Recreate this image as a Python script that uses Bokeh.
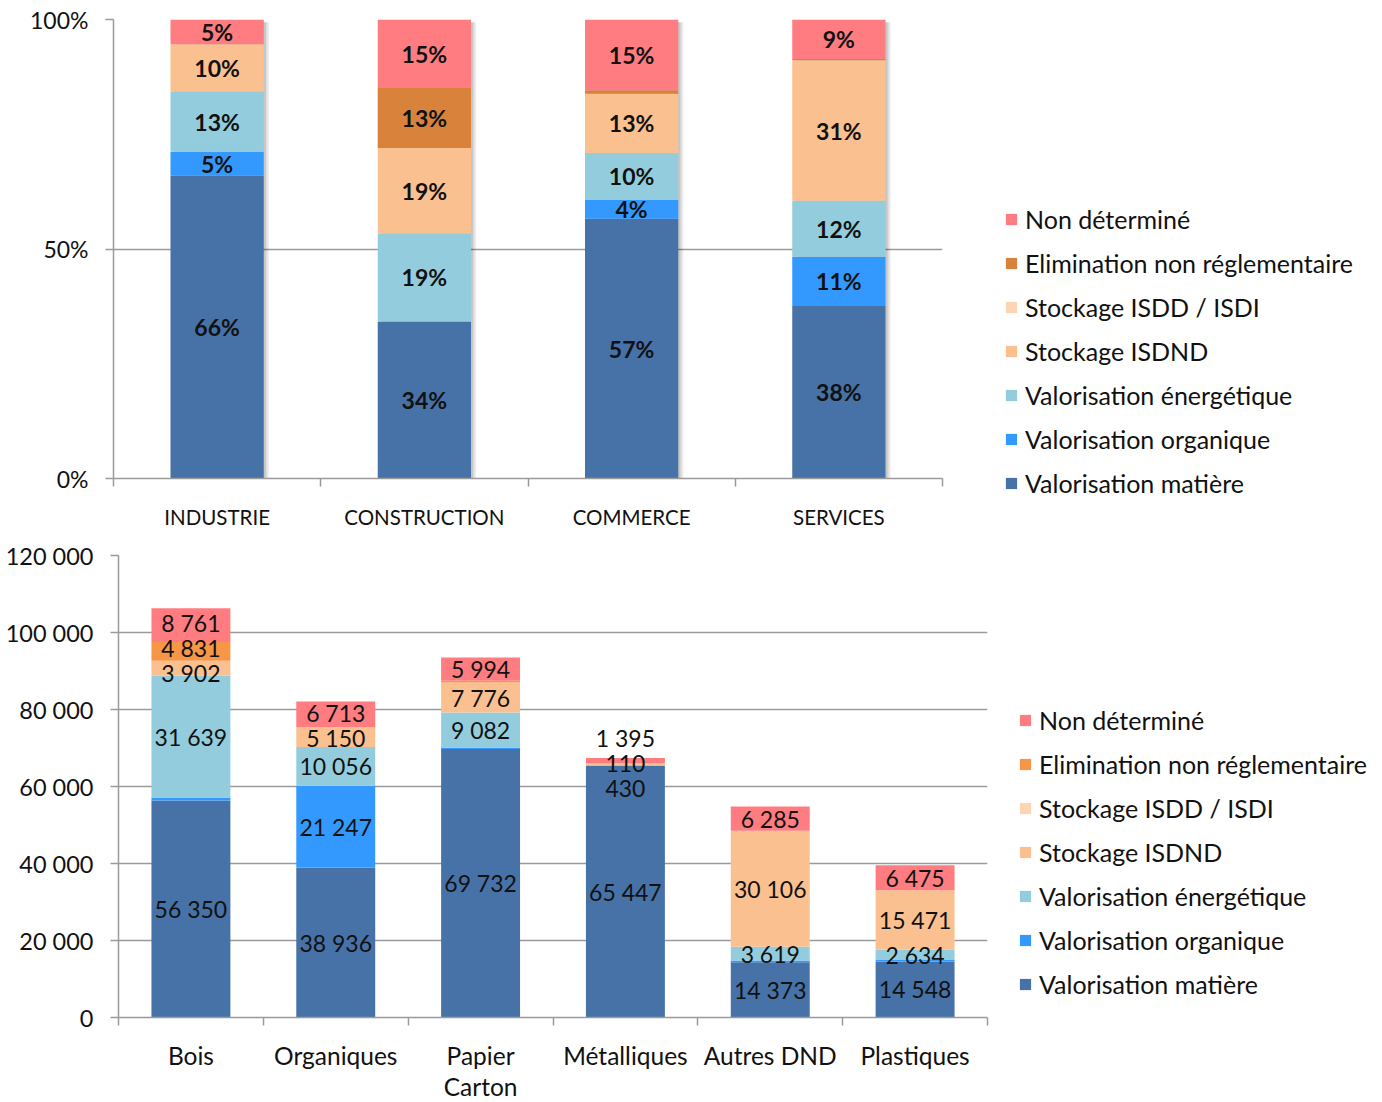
import numpy as np
from bokeh.plotting import figure
from bokeh.models import FixedTicker, Legend, LegendItem, Range1d
from bokeh.embed import file_html
from bokeh.resources import INLINE
from bokeh.core.properties import value

# ---------------- data ----------------
series_names = ["Valorisation matière", "Valorisation organique", "Valorisation énergétique",
                "Stockage ISDND", "Stockage ISDD / ISDI", "Elimination non réglementaire",
                "Non déterminé"]

# top chart: share (%) by sector
sectors = ["INDUSTRIE", "CONSTRUCTION", "COMMERCE", "SERVICES"]
sec_matiere = [66.0, 34.2, 56.6, 37.6]
sec_organique = [5.2, 0.0, 4.1, 10.7]
sec_energetique = [13.1, 19.2, 10.2, 12.2]
sec_isdnd = [10.3, 18.6, 12.9, 30.6]
sec_isdd = [0.0, 0.0, 0.0, 0.0]
sec_elimination = [0.0, 13.1, 0.8, 0.3]
sec_non_determine = [5.4, 14.9, 15.4, 8.6]

# bottom chart: tonnes by waste type
waste_types = ["Bois", "Organiques", "Papier\nCarton", "Métalliques", "Autres DND", "Plastiques"]
t_matiere = [56350, 38936, 69732, 65447, 14373, 14548]
t_organique = [800, 21247, 400, 0, 400, 400]
t_energetique = [31639, 10056, 9082, 0, 3619, 2634]
t_isdnd = [3902, 5150, 7776, 430, 30106, 15471]
t_isdd = [0, 0, 0, 110, 0, 0]
t_elimination = [4831, 0, 500, 0, 0, 0]
t_non_determine = [8761, 6713, 5994, 1395, 6285, 6475]
# segments drawn without a value label in the original
unlabelled = {("Bois", 1), ("Papier\nCarton", 1), ("Papier\nCarton", 5),
              ("Autres DND", 1), ("Plastiques", 1)}

pct_ticks = [0, 50, 100]
t_ticks = [0, 20000, 40000, 60000, 80000, 100000, 120000]

# ---------------- style ----------------
FONT = "Lato"
AX = "#9a9a9a"
colors_top = ["#4672A8", "#3399FF", "#93CDDD", "#FAC090", "#FCD5B5", "#D8823C", "#FF7C80"]
colors_bot = ["#4672A8", "#3399FF", "#93CDDD", "#FAC090", "#FCD5B5", "#F79646", "#FF7C80"]


def fmt(v):
    return f"{int(v):,}".replace(",", " ")


def style_axes(p):
    p.outline_line_color = None
    p.xgrid.visible = False
    p.ygrid.grid_line_color = AX
    p.ygrid.grid_line_width = 1.5
    for ax in (p.xaxis[0], p.yaxis[0]):
        ax.axis_line_color = AX
        ax.axis_line_width = 1.5
        ax.major_tick_line_color = AX
        ax.major_tick_line_width = 1.5
        ax.minor_tick_line_color = AX
        ax.minor_tick_line_width = 1.5
        ax.major_label_text_font = FONT
        ax.major_label_text_color = "#111111"


def make_legend(p, rends, loc):
    items = [LegendItem(label=n, renderers=[r]) for n, r in zip(series_names, rends)][::-1]
    leg = Legend(items=items, location=loc, orientation="vertical",
                 label_text_font=FONT, label_text_font_size="25px", label_text_color="#111111",
                 glyph_width=14, glyph_height=14, label_standoff=7, label_height=25,
                 spacing=14, padding=0, margin=0, border_line_color=None,
                 background_fill_alpha=0)
    p.add_layout(leg, "right")


# ---------------- top chart ----------------
p1 = figure(frame_width=829, frame_height=459, x_range=Range1d(0, 4), y_range=Range1d(0, 100),
            output_backend="svg", toolbar_location=None,
            min_border_left=113, min_border_right=0,
            min_border_top=19, min_border_bottom=62)
style_axes(p1)

sec_data = [sec_matiere, sec_organique, sec_energetique, sec_isdnd, sec_isdd,
            sec_elimination, sec_non_determine]
x1 = np.arange(len(sectors)) + 0.5
tot1 = np.sum(np.array(sec_data, float), axis=0)
# soft shadow
for dx, a in ((0.026, 0.06), (0.018, 0.08), (0.010, 0.10)):
    p1.vbar(x=x1 + dx, bottom=0, top=tot1 - 0.6, width=0.45, fill_color="black",
            fill_alpha=a, line_color=None)
bottom = np.zeros(len(sectors))
rends1 = []
lx, ly, lt = [], [], []
for vals, col in zip(sec_data, colors_top):
    v = np.array(vals, float)
    r = p1.vbar(x=x1, bottom=bottom, top=bottom + v, width=0.45, fill_color=col, line_color=None)
    rends1.append(r)
    for i in range(len(sectors)):
        if v[i] >= 2:
            lx.append(x1[i]); ly.append(bottom[i] + v[i] / 2); lt.append(f"{v[i]:.0f}%")
    bottom = bottom + v
p1.text(x=lx, y=ly, text=lt, text_align="center", text_baseline="middle",
        text_font=value(FONT), text_font_size="23px", text_font_style="bold", text_color="#111111")

xa = p1.xaxis[0]
xa.ticker = FixedTicker(ticks=list(x1), minor_ticks=list(range(len(sectors) + 1)))
xa.major_label_overrides = {float(x): s for x, s in zip(x1, sectors)}
xa.major_tick_out = 0
xa.major_tick_in = 0
xa.minor_tick_out = 8
xa.minor_tick_in = 0
xa.major_label_standoff = 18
xa.major_label_text_font_size = "20.5px"

ya = p1.yaxis[0]
ya.ticker = FixedTicker(ticks=pct_ticks, minor_ticks=[])
ya.major_label_overrides = {t: f"{t}%" for t in pct_ticks}
ya.major_tick_out = 8
ya.major_tick_in = 0
ya.major_label_standoff = 17
ya.major_label_text_font_size = "23px"

make_legend(p1, rends1, (62, -20))

# ---------------- bottom chart ----------------
p2 = figure(frame_width=869, frame_height=462, x_range=Range1d(0, 6), y_range=Range1d(0, 120000),
            output_backend="svg", toolbar_location=None,
            min_border_left=118, min_border_right=0,
            min_border_top=15, min_border_bottom=85)
style_axes(p2)

t_data = [t_matiere, t_organique, t_energetique, t_isdnd, t_isdd, t_elimination, t_non_determine]
x2 = np.arange(len(waste_types)) + 0.5
px_per_unit = 462 / 120000
min_gap = 25 / px_per_unit

bottom = np.zeros(len(waste_types))
rends2 = []
per_bar = [[] for _ in waste_types]
for s, (vals, col) in enumerate(zip(t_data, colors_bot)):
    v = np.array(vals, float)
    r = p2.vbar(x=x2, bottom=bottom, top=bottom + v, width=0.545, fill_color=col, line_color=None)
    rends2.append(r)
    for i, w in enumerate(waste_types):
        if v[i] > 0 and (w, s) not in unlabelled:
            per_bar[i].append([bottom[i] + v[i] / 2, fmt(v[i])])
    bottom = bottom + v

lx, ly, lt = [], [], []
for i, labs in enumerate(per_bar):
    ys = [l[0] for l in labs]
    for _ in range(200):
        moved = False
        for k in range(len(ys) - 1):
            d = ys[k + 1] - ys[k]
            if d < min_gap - 1e-6:
                sh = (min_gap - d) / 2
                ys[k] -= sh
                ys[k + 1] += sh
                moved = True
        if not moved:
            break
    for yv, l in zip(ys, labs):
        lx.append(x2[i]); ly.append(yv); lt.append(l[1])
p2.text(x=lx, y=ly, text=lt, text_align="center", text_baseline="middle",
        text_font=value(FONT), text_font_size="23px", text_color="#111111")

xa = p2.xaxis[0]
xa.ticker = FixedTicker(ticks=list(x2), minor_ticks=list(range(len(waste_types) + 1)))
xa.major_label_overrides = {float(x): s for x, s in zip(x2, waste_types)}
xa.major_tick_out = 0
xa.major_tick_in = 0
xa.minor_tick_out = 8
xa.minor_tick_in = 0
xa.major_label_standoff = 15
xa.major_label_text_font_size = "24.5px"
xa.major_label_text_line_height = 1.08

ya = p2.yaxis[0]
ya.ticker = FixedTicker(ticks=t_ticks, minor_ticks=[])
ya.major_label_overrides = {t: fmt(t) for t in t_ticks}
ya.major_tick_out = 8
ya.major_tick_in = 0
ya.major_label_standoff = 17
ya.major_label_text_font_size = "23.5px"

make_legend(p2, rends2, (31, 18))

open("out.html", "w").write(file_html([p1, p2], INLINE))
